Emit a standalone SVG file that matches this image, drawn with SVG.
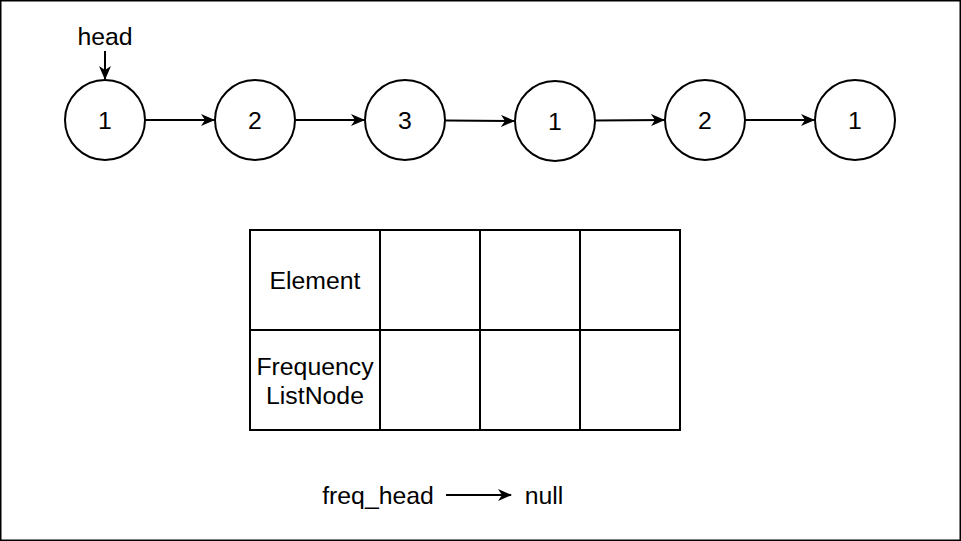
<svg xmlns="http://www.w3.org/2000/svg" width="961" height="541" viewBox="0 0 961 541">
<style>
.n{fill:#fff;stroke:#000;stroke-width:2}
.t{font-family:"Liberation Sans",Arial,sans-serif;font-size:24.8px;fill:#000;text-anchor:middle}
.e{stroke:#000;stroke-width:2;fill:none}
.cell{fill:#fff;stroke:#000;stroke-width:2}
</style>
<defs>
<marker id="a" viewBox="0 0 14 12" refX="13" refY="6" markerWidth="14" markerHeight="12" markerUnits="userSpaceOnUse" orient="auto">
<path d="M0,0 L14,6 L0,12 L4,6 Z" fill="#000"/>
</marker>
</defs>
<rect x="0.75" y="0.75" width="959.5" height="539.5" fill="#fff" stroke="#000" stroke-width="1.5"/>
<g id="head-label"><text class="t" x="105" y="45">head</text></g>
<g id="n1"><circle class="n" cx="105" cy="120" r="40"/><text class="t" x="105" y="129">1</text></g>
<g id="n2"><circle class="n" cx="255" cy="120" r="40"/><text class="t" x="255" y="129">2</text></g>
<g id="n3"><circle class="n" cx="405" cy="120" r="40"/><text class="t" x="405" y="129">3</text></g>
<g id="n4"><circle class="n" cx="555" cy="121" r="40"/><text class="t" x="555" y="130">1</text></g>
<g id="n5"><circle class="n" cx="705" cy="120" r="40"/><text class="t" x="705" y="129">2</text></g>
<g id="n6"><circle class="n" cx="855" cy="120" r="40"/><text class="t" x="855" y="129">1</text></g>
<g id="table">
<rect class="cell" x="250" y="230" width="130" height="100"/>
<rect class="cell" x="380" y="230" width="100" height="100"/>
<rect class="cell" x="480" y="230" width="100" height="100"/>
<rect class="cell" x="580" y="230" width="100" height="100"/>
<rect class="cell" x="250" y="330" width="130" height="100"/>
<rect class="cell" x="380" y="330" width="100" height="100"/>
<rect class="cell" x="480" y="330" width="100" height="100"/>
<rect class="cell" x="580" y="330" width="100" height="100"/>
<text class="t" x="315" y="289">Element</text>
<text class="t" x="315" y="375">Frequency</text>
<text class="t" x="315" y="404">ListNode</text>
</g>
<g id="freq-head"><text class="t" x="378" y="504">freq_head</text></g>
<g id="null"><text class="t" x="544" y="504">null</text></g>
<g id="connectors">
<path class="e" d="M105,51 L105,79" marker-end="url(#a)"/>
<path class="e" d="M146,120 L214,120" marker-end="url(#a)"/>
<path class="e" d="M296,120 L364,120" marker-end="url(#a)"/>
<path class="e" d="M446,120.5 L514,121" marker-end="url(#a)"/>
<path class="e" d="M596,120.5 L664,120" marker-end="url(#a)"/>
<path class="e" d="M746,120 L814,120" marker-end="url(#a)"/>
<path class="e" d="M446,495 L511,495" marker-end="url(#a)"/>
</g>
</svg>
